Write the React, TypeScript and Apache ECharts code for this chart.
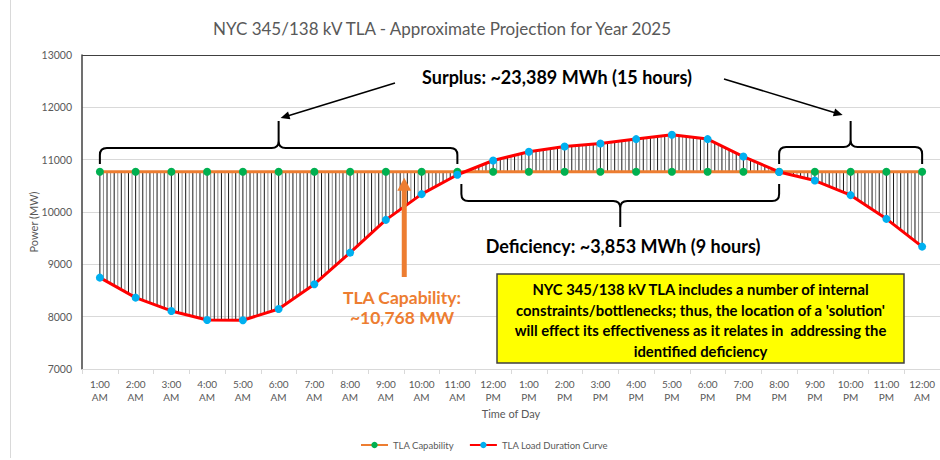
import React, { useEffect, useRef } from "react";
import * as echarts from "echarts";

const categories = [
  "1:00\nAM", "2:00\nAM", "3:00\nAM", "4:00\nAM", "5:00\nAM", "6:00\nAM",
  "7:00\nAM", "8:00\nAM", "9:00\nAM", "10:00\nAM", "11:00\nAM", "12:00\nPM",
  "1:00\nPM", "2:00\nPM", "3:00\nPM", "4:00\nPM", "5:00\nPM", "6:00\nPM",
  "7:00\nPM", "8:00\nPM", "9:00\nPM", "10:00\nPM", "11:00\nPM", "12:00\nAM",
];

const capability = [
  10768, 10768, 10768, 10768, 10768, 10768, 10768, 10768, 10768, 10768, 10768, 10768,
  10768, 10768, 10768, 10768, 10768, 10768, 10768, 10768, 10768, 10768, 10768, 10768,
];

const loadCurve = [
  8746, 8364, 8109, 7937, 7931, 8147, 8620, 9224, 9850, 10341, 10712, 10984,
  11150, 11252, 11309, 11393, 11475, 11393, 11060, 10765, 10601, 10322, 9869, 9339,
];

const yTicks = [7000, 8000, 9000, 10000, 11000, 12000, 13000];

const titleText = "NYC 345/138 kV TLA - Approximate Projection for Year 2025";
const surplusText = "Surplus: ~23,389 MWh (15 hours)";
const deficiencyText = "Deficiency: ~3,853 MWh (9 hours)";
const capLabel = "TLA Capability:\n~10,768 MW";
const noteText =
  "NYC 345/138 kV TLA includes a number of internal\nconstraints/bottlenecks; thus, the location of a 'solution'\nwill effect its effectiveness as it relates in  addressing the\nidentified deficiency";
const seriesNames = ["TLA Capability", "TLA Load Duration Curve"];

const FONT = "Lato";

function bracePath(x0: number, x1: number, xm: number, yH: number, yEnd: number, yTip: number, r: number) {
  const s = yEnd > yH ? 1 : -1;
  return (
    `M${x0} ${yEnd} L${x0} ${yH + s * r} Q${x0} ${yH} ${x0 + r} ${yH} L${xm - r} ${yH} ` +
    `Q${xm} ${yH} ${xm} ${yH - s * r} L${xm} ${yTip} ` +
    `M${xm} ${yH - s * r} Q${xm} ${yH} ${xm + r} ${yH} L${x1 - r} ${yH} ` +
    `Q${x1} ${yH} ${x1} ${yH + s * r} L${x1} ${yEnd}`
  );
}

function arrow(x1: number, y1: number, x2: number, y2: number, color: string, width: number, headLen: number, headW: number) {
  const dx = x2 - x1;
  const dy = y2 - y1;
  const L = Math.sqrt(dx * dx + dy * dy);
  const ux = dx / L;
  const uy = dy / L;
  const bx = x2 - ux * headLen;
  const by = y2 - uy * headLen;
  const nx = -uy;
  const ny = ux;
  return [
    {
      type: "line",
      shape: { x1, y1, x2: bx + ux * 1, y2: by + uy * 1 },
      style: { stroke: color, lineWidth: width },
      z: 20,
    },
    {
      type: "polygon",
      shape: {
        points: [
          [x2, y2],
          [bx + nx * headW, by + ny * headW],
          [bx - nx * headW, by - ny * headW],
        ],
      },
      style: { fill: color },
      z: 20,
    },
  ];
}

export default function App() {
  const ref = useRef<HTMLDivElement>(null);

  useEffect(() => {
    const el = ref.current!;
    const chart = echarts.init(el, null, { renderer: "svg" });
    const n = loadCurve.length;

    const option: any = {
      animation: false,
      textStyle: { fontFamily: FONT },
      grid: { left: 82, top: 55, width: 860, height: 314 },
      legend: {
        data: seriesNames,
        left: 360,
        top: 440,
        padding: 0,
        itemWidth: 27,
        itemHeight: 8,
        itemGap: 15,
        textStyle: { fontSize: 9.5, color: "#595959", fontFamily: FONT },
      },
      xAxis: {
        type: "category",
        data: categories,
        boundaryGap: true,
        name: "Time of Day",
        nameLocation: "middle",
        nameGap: 39,
        nameTextStyle: { fontSize: 11, color: "#595959", fontFamily: FONT },
        axisLine: { lineStyle: { color: "#d9d9d9" } },
        axisTick: { show: true, length: 5, lineStyle: { color: "#d9d9d9" } },
        axisLabel: {
          interval: 0,
          fontSize: 10,
          lineHeight: 12.5,
          color: "#595959",
          margin: 9,
          fontFamily: FONT,
        },
        splitLine: { show: false },
      },
      yAxis: {
        type: "value",
        min: yTicks[0],
        max: yTicks[yTicks.length - 1],
        interval: 1000,
        axisLine: { show: true, lineStyle: { color: "#404040", width: 1.5 } },
        axisTick: { show: false },
        axisLabel: {
          fontSize: 10.5,
          color: "#595959",
          margin: 10,
          fontFamily: FONT,
          formatter: (v: number) => String(v),
        },
        splitLine: {
          show: true,
          lineStyle: {
            color: ["#d9d9d9", "#d9d9d9", "#d9d9d9", "#d9d9d9", "#d9d9d9", "#d9d9d9", "#404040"],
            width: 1,
          },
        },
      },
      series: [
        {
          type: "custom",
          name: "hatch",
          z: 1,
          silent: true,
          data: loadCurve.map((v, i) => [i, v]),
          encode: { x: 0, y: 1 },
          renderItem: (params: any, api: any) => {
            const i = api.value(0);
            if (i >= n - 1) return null;
            const p0 = api.coord([i, loadCurve[i]]);
            const p1 = api.coord([i + 1, loadCurve[i + 1]]);
            const c0 = api.coord([i, capability[i]]);
            const c1 = api.coord([i + 1, capability[i + 1]]);
            const children: any[] = [];
            const steps = 10;
            const last = i === n - 2 ? steps : steps - 1;
            for (let k = 0; k <= last; k++) {
              const t = k / steps;
              const x = p0[0] + (p1[0] - p0[0]) * t;
              const yl = p0[1] + (p1[1] - p0[1]) * t;
              const yc = c0[1] + (c1[1] - c0[1]) * t;
              children.push({
                type: "line",
                shape: { x1: x, y1: yl, x2: x, y2: yc },
                style: { stroke: k % 2 === 0 ? "#1a1a1a" : "#8c8c8c", lineWidth: 1 },
              });
            }
            return { type: "group", children };
          },
        },
        {
          type: "line",
          name: seriesNames[0],
          data: capability,
          z: 3,
          symbol: "circle",
          symbolSize: 8,
          lineStyle: { color: "#ED7D31", width: 3 },
          itemStyle: { color: "#00B050", borderWidth: 0 },
        },
        {
          type: "line",
          name: seriesNames[1],
          data: loadCurve,
          z: 4,
          symbol: "circle",
          symbolSize: 8,
          lineStyle: { color: "#FF0000", width: 3 },
          itemStyle: { color: "#00B0F0", borderWidth: 0 },
        },
      ],
    };

    chart.setOption(option);

    const px = (i: number, v: number) => chart.convertToPixel({ gridIndex: 0 }, [i, v]) as number[];

    const lx0 = px(0, capability[0])[0];
    const lx1 = px(10, capability[10])[0];
    const rx0 = px(19, capability[19])[0];
    const rx1 = px(23, capability[23])[0];
    const dx0 = lx1 + 4;
    const dx1 = rx0;
    const lm = (lx0 + lx1) / 2;
    const rm = (rx0 + rx1) / 2;
    const dm = (dx0 + dx1) / 2;

    echarts.graphic.registerShape("braceL", echarts.graphic.extendPath(bracePath(lx0, lx1, lm, 148, 164, 121, 7), {}));
    echarts.graphic.registerShape("braceR", echarts.graphic.extendPath(bracePath(rx0, rx1, rm, 147, 164, 121, 7), {}));
    echarts.graphic.registerShape("braceD", echarts.graphic.extendPath(bracePath(dx0, dx1, dm, 201, 184, 227, 7), {}));

    const braceStyle = { fill: null, stroke: "#000000", lineWidth: 2 };

    const capPix = px(9, capability[9]);
    const oax = (px(8, capability[8])[0] + capPix[0]) / 2 + 0.5;

    const graphics: any[] = [
      {
        type: "line",
        shape: { x1: 10.5, y1: 0, x2: 10.5, y2: 458 },
        style: { stroke: "#d9d9d9", lineWidth: 1 },
      },
      {
        type: "text",
        x: 442,
        y: 28,
        style: {
          text: titleText,
          fontSize: 17,
          fontFamily: FONT,
          fill: "#595959",
          textAlign: "center",
          textVerticalAlign: "middle",
        },
      },
      {
        type: "text",
        x: 33,
        y: 222,
        rotation: Math.PI / 2,
        style: {
          text: "Power (MW)",
          fontSize: 11,
          fontFamily: FONT,
          fill: "#595959",
          textAlign: "center",
          textVerticalAlign: "middle",
        },
      },
      { type: "braceL", x: 0, y: 0, style: braceStyle, z: 20 },
      { type: "braceR", x: 0, y: 0, style: braceStyle, z: 20 },
      { type: "braceD", x: 0, y: 0, style: braceStyle, z: 20 },
      ...arrow(395, 83, lm + 2, 118, "#000000", 1.5, 9, 4),
      ...arrow(724, 79, rm - 8, 115, "#000000", 1.5, 9, 4),
      ...arrow(oax, 277, oax, capPix[1] + 6, "#ED7D31", 5, 13, 7),
      {
        type: "text",
        x: 557,
        y: 77,
        z: 20,
        style: {
          text: surplusText,
          fontSize: 18,
          fontWeight: "bold",
          fontFamily: FONT,
          fill: "#000000",
          textAlign: "center",
          textVerticalAlign: "middle",
        },
      },
      {
        type: "text",
        x: 623,
        y: 246,
        z: 20,
        style: {
          text: deficiencyText,
          fontSize: 18,
          fontWeight: "bold",
          fontFamily: FONT,
          fill: "#000000",
          textAlign: "center",
          textVerticalAlign: "middle",
        },
      },
      {
        type: "text",
        x: 402,
        y: 307,
        z: 20,
        style: {
          text: capLabel,
          fontSize: 17.5,
          lineHeight: 20,
          fontWeight: "bold",
          fontFamily: FONT,
          fill: "#ED7D31",
          textAlign: "center",
          textVerticalAlign: "middle",
        },
      },
      {
        type: "rect",
        z: 20,
        shape: { x: 497, y: 274, width: 407, height: 89 },
        style: { fill: "#FFFF00", stroke: "#404040", lineWidth: 1.5 },
      },
      {
        type: "text",
        x: 700.5,
        y: 320,
        z: 21,
        style: {
          text: noteText,
          fontSize: 14.8,
          lineHeight: 20.7,
          fontWeight: "bold",
          fontFamily: FONT,
          fill: "#000000",
          textAlign: "center",
          textVerticalAlign: "middle",
        },
      },
    ];

    chart.setOption({ graphic: graphics });

    return () => chart.dispose();
  }, []);

  return (
    <div
      ref={ref}
      style={{ position: "fixed", left: 0, top: 0, width: 940, height: 460, background: "#ffffff" }}
    />
  );
}
